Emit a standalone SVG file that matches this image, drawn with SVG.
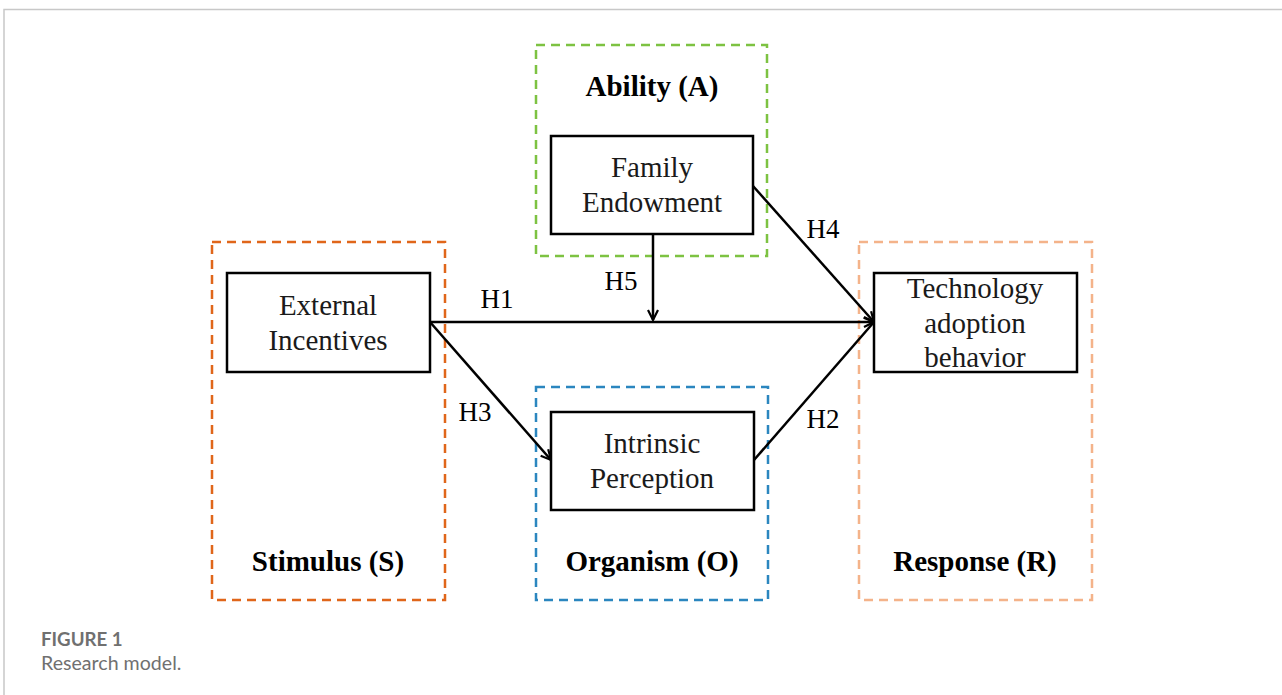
<svg xmlns="http://www.w3.org/2000/svg" width="1282" height="695" viewBox="0 0 1282 695">
<defs>
<style>
.frame{fill:none;stroke:#c8c8c8;stroke-width:1.5}
.grp{fill:none;stroke-width:2.5;stroke-dasharray:9 6}
.node{fill:#fff;stroke:#000;stroke-width:2.5}
.t{font-family:"Liberation Serif","Times New Roman",serif;font-size:29px;fill:#1a1a1a;text-anchor:middle}
.gl{font-family:"Liberation Serif","Times New Roman",serif;font-size:29px;font-weight:bold;fill:#000;text-anchor:middle}
.h{font-family:"Liberation Serif","Times New Roman",serif;font-size:27px;fill:#000;text-anchor:middle}
.edge{fill:none;stroke:#000;stroke-width:2.5}
.cap{font-family:"Lato","Open Sans",sans-serif;fill:#707070}
</style>
<marker id="arr" viewBox="0 0 12 12" refX="11" refY="6" markerWidth="12" markerHeight="12" markerUnits="userSpaceOnUse" orient="auto">
<path d="M1,1 L11,6 L1,11" fill="none" stroke="#000" stroke-width="2.2"/>
</marker>
</defs>
<rect width="1282" height="695" fill="#fff"/>
<path class="frame" d="M4,695 V9.5 H1282"/>

<g id="group-ability"><rect class="grp" x="536" y="45" width="231" height="211" stroke="#7DC242"/><text class="gl" x="652" y="96">Ability (A)</text></g>
<g id="group-stimulus"><rect class="grp" x="212" y="242" width="233" height="358" stroke="#E0661A"/><text class="gl" x="328" y="571">Stimulus (S)</text></g>
<g id="group-organism"><rect class="grp" x="536" y="387" width="232" height="213" stroke="#2B86BF"/><text class="gl" x="652" y="571">Organism (O)</text></g>
<g id="group-response"><rect class="grp" x="859" y="242" width="233" height="358" stroke="#F4B38A"/><text class="gl" x="975" y="571">Response (R)</text></g>

<g id="connectors">
<line class="edge" x1="430" y1="322" x2="874" y2="322" marker-end="url(#arr)"/>
<line class="edge" x1="653" y1="234" x2="653" y2="320" marker-end="url(#arr)"/>
<line class="edge" x1="430" y1="322" x2="551" y2="460" marker-end="url(#arr)"/>
<line class="edge" x1="753" y1="186" x2="874" y2="322" marker-end="url(#arr)"/>
<line class="edge" x1="754" y1="460" x2="874" y2="322"/>
<text class="h" x="497" y="308">H1</text>
<text class="h" x="621" y="290">H5</text>
<text class="h" x="475" y="421">H3</text>
<text class="h" x="823" y="238">H4</text>
<text class="h" x="823" y="428">H2</text>
</g>

<g id="node-family"><rect class="node" x="551" y="136" width="202" height="98"/><text class="t" x="652" y="177">Family</text><text class="t" x="652" y="212">Endowment</text></g>
<g id="node-external"><rect class="node" x="227" y="273" width="203" height="99"/><text class="t" x="328" y="315">External</text><text class="t" x="328" y="350">Incentives</text></g>
<g id="node-intrinsic"><rect class="node" x="551" y="412" width="203" height="98"/><text class="t" x="652" y="453">Intrinsic</text><text class="t" x="652" y="488">Perception</text></g>
<g id="node-technology"><rect class="node" x="874" y="273" width="203" height="99"/><text class="t" x="975" y="298">Technology</text><text class="t" x="975" y="333">adoption</text><text class="t" x="975" y="367">behavior</text></g>

<text class="cap" x="41" y="646" font-size="18.7" font-weight="bold">FIGURE 1</text>
<text class="cap" x="41" y="670" font-size="19.6">Research model.</text>
</svg>
